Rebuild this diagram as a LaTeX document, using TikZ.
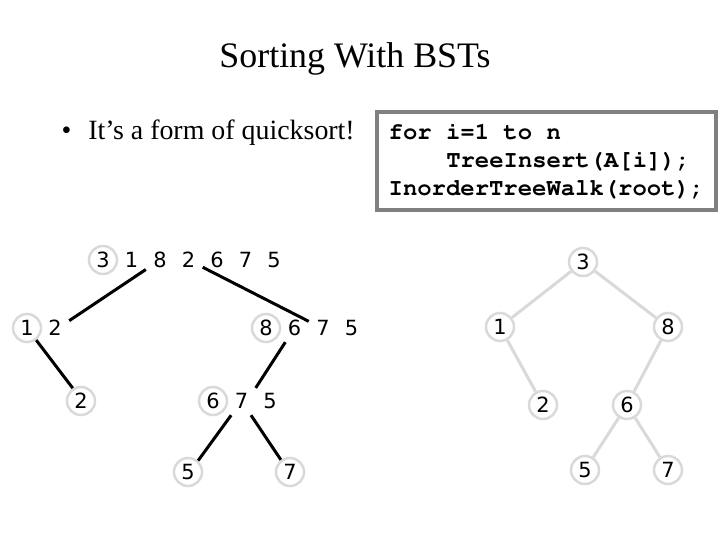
\documentclass[tikz,border=0pt]{standalone}
\usepackage{fontspec}
\setmainfont{Liberation Serif}
\newfontfamily\digitfont{DejaVu Sans}
\newcommand\codefont{\fontencoding{T1}\fontfamily{pcr}\fontseries{b}\selectfont}
\usepackage{xcolor}
\usepackage{tikz}
\definecolor{ringgray}{RGB}{217,217,217}
\definecolor{boxgray}{RGB}{128,128,128}

\begin{document}
\begin{tikzpicture}[
  x=1bp, y=-1bp,
  digit/.style={
    font=\digitfont\fontsize{21}{21}\selectfont,
    inner sep=0pt,
    text height=15bp,
    text depth=0pt,
    minimum size=28bp
  },
  ring/.style={digit,circle,draw=ringgray,line width=2.5bp},
  split/.style={line width=3bp},
  bst/.style={draw=ringgray,line width=3bp}
]
  \useasboundingbox (0,0) rectangle (720,540);

  \node[anchor=base,font=\fontsize{36}{40}\selectfont] (title) at (355,68) {Sorting With BSTs};
  \node[anchor=base west,font=\fontsize{28}{32}\selectfont] (point) at (58,140)
    {\textbullet\hspace{17bp}It’s a form of quicksort!};
  \node[draw=boxgray,line width=4bp,minimum width=339bp,minimum height=98bp,
    align=left,font=\codefont\fontsize{24}{28}\selectfont] (code) at (546.5,161)
    {for i=1 to n\\\hspace*{57.6bp}TreeInsert(A[i]);\\InorderTreeWalk(root);};

  % partitions
  \node[ring] (a1) at (103,260) {3};
  \foreach \d [count=\i from 2] in {1,8,2,6,7,5}
    \node[digit] (a\i) at ({103+28.5*(\i-1)},260) {\d};
  \node[ring] (b1) at (27,328) {1};
  \node[digit] (b2) at (55,328) {2};
  \node[ring] (c1) at (266,328) {8};
  \foreach \d [count=\i from 2] in {6,7,5}
    \node[digit] (c\i) at ({266+28.5*(\i-1)},328) {\d};
  \node[ring] (d1) at (81,401) {2};
  \node[ring] (e1) at (213,401) {6};
  \foreach \d [count=\i from 2] in {7,5}
    \node[digit] (e\i) at ({213+28.5*(\i-1)},401) {\d};
  \node[ring] (f1) at (188,472) {5};
  \node[ring] (g1) at (290,472) {7};

  \draw[split] ([shift={(8,10)}]a3) -- ([shift={(-6,-16)}]b2);
  \draw[split] ([shift={(10,10)}]a4) -- ([shift={(-5,-16)}]c3);
  \draw[split] ([shift={(16,14)}]b1) -- ([shift={(-9,-17)}]d1);
  \draw[split] ([shift={(11,14)}]c2) -- ([shift={(4,-17)}]e2);
  \draw[split] ([shift={(-2,13)}]e2) -- ([shift={(10,-16)}]f1);
  \draw[split] ([shift={(5,13)}]e2) -- ([shift={(-2,-16)}]g1);

  % resulting tree
  \node[ring] (r3) at (583,262) {3};
  \node[ring] (r1) at (500,327) {1};
  \node[ring] (r8) at (668,327) {8};
  \node[ring] (r2) at (543,405) {2};
  \node[ring] (r6) at (627,405) {6};
  \node[ring] (r5) at (585,470) {5};
  \node[ring] (r7) at (668,470) {7};

  \draw[bst] (r3) -- (r1);
  \draw[bst] (r3) -- (r8);
  \draw[bst] (r1) -- (r2);
  \draw[bst] (r8) -- (r6);
  \draw[bst] (r6) -- (r5);
  \draw[bst] (r6) -- (r7);
\end{tikzpicture}
\end{document}
